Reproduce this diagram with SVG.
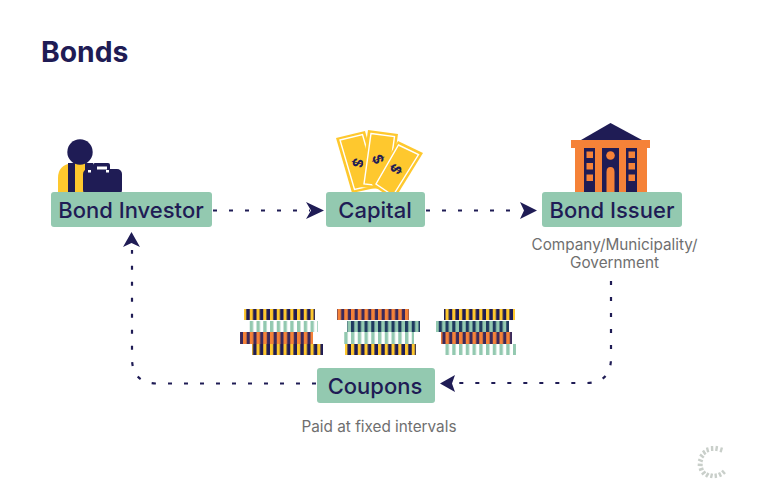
<svg xmlns="http://www.w3.org/2000/svg" width="757" height="498" viewBox="0 0 757 498">
<style>
text{font-family:Inter,"Noto Sans","Liberation Sans",sans-serif}
.lbl{font-size:22px;font-weight:500;fill:#1f1c55;text-anchor:middle}
.sub{font-size:15.300px;fill:#6f6f6f;text-anchor:middle}
.box{fill:#93c9b0}
.dot{fill:none;stroke:#1f1c55;stroke-width:2.2;stroke-dasharray:4 12}
.navy{fill:#1f1c55}.or{fill:#f58238}.yl{fill:#fec82e}
.bill{fill:#fec82e}
.inner{fill:none;stroke:#fff;stroke-width:1.4}
.dollar{font-size:14px;font-weight:700;fill:#1f1c55;text-anchor:middle}
.spin{stroke:#c9cfca;stroke-width:2.4;fill:none}
</style>
<defs>
<pattern id="py" width="6.75" height="12" patternUnits="userSpaceOnUse"><rect width="6.75" height="12" fill="#fec82e"/><rect x="3.2" width="3.55" height="12" fill="#1f1c55"/></pattern>
<pattern id="po" width="6.75" height="12" patternUnits="userSpaceOnUse"><rect width="6.75" height="12" fill="#f58238"/><rect x="3.6" width="3.15" height="12" fill="#3a2a5c"/></pattern>
<pattern id="pg" width="6.75" height="12" patternUnits="userSpaceOnUse"><rect width="6.75" height="12" fill="#fff"/><rect x="0" width="3.4" height="12" fill="#93c9b0"/></pattern>
<pattern id="pd" width="6.75" height="12" patternUnits="userSpaceOnUse"><rect width="6.75" height="12" fill="#93c9b0"/><rect x="0" width="3.2" height="12" fill="#1f3a60"/></pattern>
</defs>
<rect width="757" height="498" fill="#fff"/>
<text x="41" y="62" font-size="28.300" font-weight="700" fill="#1f1c55">Bonds</text>

<g id="connectors">
<path class="dot" d="M213 210.500H310"/>
<path class="dot" d="M426 210.500H520"/>
<path class="dot" d="M611 281V358Q611 383 586 383H455"/>
<path class="dot" d="M316 383.500H157Q132 383.500 132 358V250"/>
<path class="navy" d="M324 210.500L306 202L311 210.500L306 219Z"/>
<path class="navy" d="M537 210.500L520 202L524 210.500L520 219Z"/>
<path class="navy" d="M440 383.500L455 375L452 383.500L455 392Z"/>
<path class="navy" d="M131.500 232L123 247L131.500 243L140 247Z"/>
</g>

<g id="investor">
<path class="yl" d="M58 192V178Q58 165 72 163H92V192Z"/>
<rect x="68" y="163" width="7" height="29" class="navy"/>
<rect x="85" y="163" width="8" height="10" class="navy"/>
<circle cx="80" cy="152" r="12.700" class="navy"/>
<rect x="93" y="163" width="17" height="9" rx="2" class="navy"/>
<rect x="83" y="169" width="39" height="26" rx="5" class="navy"/>
<rect x="97" y="166.500" width="10" height="3" fill="#fff"/>
<rect x="88" y="170" width="3" height="2.500" fill="#fff"/><rect x="106" y="170" width="3" height="2.500" fill="#fff"/>
<rect x="51" y="192" width="161" height="35" rx="3" class="box"/>
<text x="131" y="218" class="lbl">Bond Investor</text>
</g>

<g id="capital">
<polygon class="bill" points="336,138 365,131 380,187 352,193"/>
<polygon class="inner" points="340,140 362.500,134.500 376.500,184.500 354.500,189.500"/>
<text class="dollar" transform="translate(358 163) rotate(105)" dy="5">$</text>
<polygon class="bill" points="368,130 398,134 390,190 360,187"/>
<polygon class="inner" points="371,133.500 394.500,136.500 387.500,186.500 364,184"/>
<text class="dollar" transform="translate(378 159) rotate(70)" dy="5">$</text>
<polygon class="bill" points="398,141 423,153 394,200 372,185"/>
<polygon class="inner" points="398.500,145 418.500,154.500 393,195.500 376,184"/>
<text class="dollar" transform="translate(396 169) rotate(120)" dy="5">$</text>
<rect x="326" y="192" width="99" height="35" rx="3" class="box"/>
<text x="375" y="218" class="lbl">Capital</text>
</g>

<g id="issuer">
<path class="navy" d="M610.500 123L581 140H642Z"/>
<rect x="571" y="140" width="79" height="8" class="or"/>
<rect x="575" y="148" width="72" height="44" class="or"/>
<rect x="584" y="148" width="11" height="44" class="navy"/><rect x="602" y="148" width="17" height="44" class="navy"/><rect x="626" y="148" width="11" height="44" class="navy"/>
<g class="or"><rect x="586.500" y="151.500" width="6.500" height="6.500"/><rect x="586.500" y="163" width="6.500" height="6.500"/><rect x="586.500" y="174.500" width="6.500" height="6.500"/><rect x="628.500" y="151.500" width="6.500" height="6.500"/><rect x="628.500" y="163" width="6.500" height="6.500"/><rect x="628.500" y="174.500" width="6.500" height="6.500"/><circle cx="610.500" cy="155.500" r="4.300"/><path d="M606.500 192V172Q606.500 167 610.500 167Q614.500 167 614.500 172V192Z"/></g>
<rect x="542" y="192" width="140" height="35" rx="3" class="box"/>
<text x="612" y="218" class="lbl">Bond Issuer</text>
<text x="614.500" y="249.500" class="sub">Company/Municipality/</text>
<text x="614.500" y="267.500" class="sub">Government</text>
</g>

<g id="coin-stack-1">
<rect x="244" y="309" width="71" height="11" fill="url(#py)"/>
<rect x="247" y="321" width="71" height="11" fill="url(#pg)"/>
<rect x="240" y="332" width="73" height="12" fill="url(#po)"/>
<rect x="252" y="344" width="71" height="11" fill="url(#py)"/>
</g>
<g id="coin-stack-2">
<rect x="337" y="309" width="72" height="11" fill="url(#po)"/>
<rect x="347" y="321" width="73" height="11" fill="url(#pd)"/>
<rect x="342" y="332" width="72" height="12" fill="url(#pg)"/>
<rect x="345" y="344" width="71" height="11" fill="url(#py)"/>
</g>
<g id="coin-stack-3">
<rect x="444" y="309" width="71" height="11" fill="url(#py)"/>
<rect x="436" y="321" width="73" height="11" fill="url(#pd)"/>
<rect x="441" y="332" width="71" height="12" fill="url(#po)"/>
<rect x="445" y="344" width="71" height="11" fill="url(#pg)"/>
</g>

<g id="coupons">
<rect x="317" y="368" width="118" height="35" rx="3" class="box"/>
<text x="375" y="394" class="lbl">Coupons</text>
<text x="379" y="431.500" class="sub">Paid at fixed intervals</text>
</g>

<g id="spinner" class="spin">
<path d="M721.900 447.500L720.600 452.300M717 446L716.200 451M712 446L712.200 451M707 447.500L708.200 452.200M703 450.500L705.500 454.500M700 454.500L703.800 457.700M698.200 459.500L702.800 461.300M697.700 464.800L702.700 465M699 470L703.500 468.500M701.800 474.500L705.500 471.500M706 477L708.500 473M711 478L712 473.500M716 478L715.500 473.500M721 476.800L719 472.500M725 474L722 470.500"/>
</g>
</svg>
